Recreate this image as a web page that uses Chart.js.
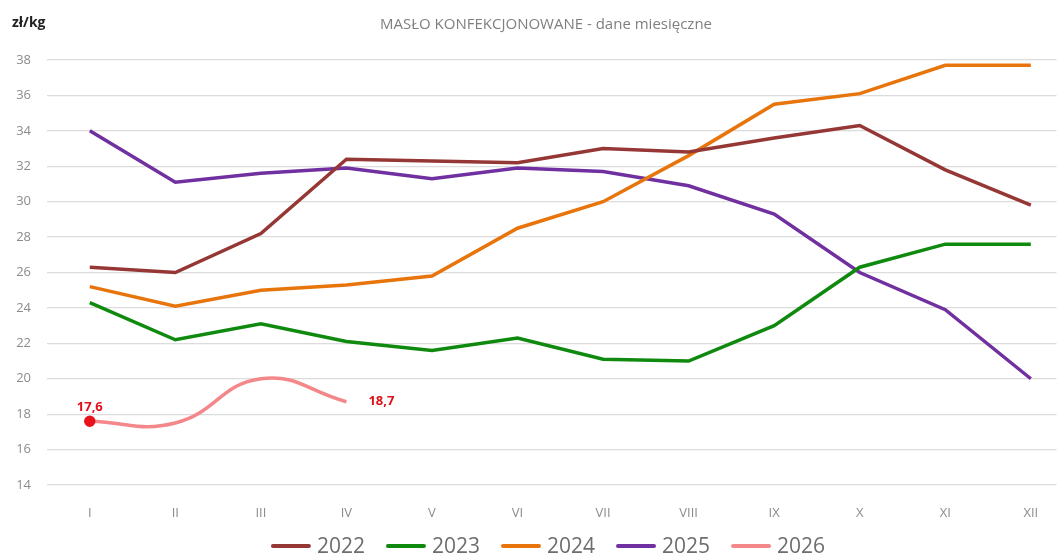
<!DOCTYPE html>
<html>
<head>
<meta charset="utf-8">
<script src="https://cdn.jsdelivr.net/npm/chart.js@4/dist/chart.umd.min.js"></script>
<style>
  body { margin: 0; background: #fff; }
  #wrap { width: 1064px; height: 557px; }
</style>
</head>
<body>
<div id="wrap"><canvas id="butterChart" width="1064" height="557"></canvas></div>
<script>
const months = ['I', 'II', 'III', 'IV', 'V', 'VI', 'VII', 'VIII', 'IX', 'X', 'XI', 'XII'];
const years = ['2022', '2023', '2024', '2025', '2026'];
const colors = ['#953735', '#0f8a0f', '#e8740c', '#7030a0', '#f4878a'];

const v2022 = [26.3, 26.0, 28.2, 32.4, 32.3, 32.2, 33.0, 32.8, 33.6, 34.3, 31.8, 29.8];
const v2023 = [24.3, 22.2, 23.1, 22.1, 21.6, 22.3, 21.1, 21.0, 23.0, 26.3, 27.6, 27.6];
const v2024 = [25.2, 24.1, 25.0, 25.3, 25.8, 28.5, 30.0, 32.6, 35.5, 36.1, 37.7, 37.7];
const v2025 = [34.0, 31.1, 31.6, 31.9, 31.3, 31.9, 31.7, 30.9, 29.3, 26.0, 23.9, 20.0];
const v2026 = [17.6, 17.5, 20.0, 18.7];

const yTicks = [14, 16, 18, 20, 22, 24, 26, 28, 30, 32, 34, 36, 38];
const seriesList = [v2022, v2023, v2024, v2025, v2026];

function toPoints(arr) {
  return arr.map((y, i) => ({ x: i + 1, y: y }));
}

const datasets = seriesList.map((vals, i) => ({
  label: years[i],
  data: toPoints(vals),
  borderColor: colors[i],
  backgroundColor: colors[i],
  borderWidth: 3.5,
  tension: i === 4 ? 0.45 : 0,
  pointRadius: i === 4 ? [4, 0, 0, 0] : 0,
  pointBackgroundColor: '#e8141c',
  pointBorderColor: '#e8141c'
}));

// labels on 2026, title, unit and the legend row
const extraText = {
  id: 'extraText',
  afterDatasetsDraw(chart) {
    const ctx = chart.ctx;
    const xs = chart.scales.x, ys = chart.scales.y;
    ctx.save();
    ctx.font = 'bold 13px "Open Sans", sans-serif';
    ctx.fillStyle = '#e0101a';
    ctx.textBaseline = 'middle';
    const first = v2026[0], last = v2026[v2026.length - 1];
    ctx.textAlign = 'center';
    ctx.fillText(first.toFixed(1).replace('.', ','), xs.getPixelForValue(1), ys.getPixelForValue(first) - 14);
    ctx.textAlign = 'left';
    ctx.fillText(last.toFixed(1).replace('.', ','), xs.getPixelForValue(v2026.length) + 22, ys.getPixelForValue(last));

    ctx.fillStyle = '#7f7f7f';
    ctx.font = '15px "Open Sans", sans-serif';
    ctx.textAlign = 'center';
    ctx.fillText('MASŁO KONFEKCJONOWANE - dane miesięczne', 546, 25);
    ctx.fillStyle = '#222';
    ctx.font = 'bold 14px "Open Sans", sans-serif';
    ctx.textAlign = 'left';
    ctx.fillText('zł/kg', 12, 23);

    // legend
    ctx.font = '21px "Open Sans", sans-serif';
    const lineW = 40, gapIn = 6, gapOut = 21;
    const widths = years.map(t => ctx.measureText(t).width);
    const total = widths.reduce((s, w) => s + lineW + gapIn + w, 0) + gapOut * (years.length - 1);
    let x = 548 - total / 2;
    const ly = 546;
    years.forEach((t, i) => {
      ctx.strokeStyle = colors[i];
      ctx.lineWidth = 4;
      ctx.lineCap = 'round';
      ctx.beginPath();
      ctx.moveTo(x + 2, ly);
      ctx.lineTo(x + lineW - 2, ly);
      ctx.stroke();
      ctx.fillStyle = '#6d6d6d';
      ctx.fillText(t, x + lineW + gapIn, ly + 1);
      x += lineW + gapIn + widths[i] + gapOut;
    });
    ctx.restore();
  }
};

new Chart(document.getElementById('butterChart'), {
  type: 'line',
  data: { datasets: datasets },
  plugins: [extraText],
  options: {
    responsive: false,
    animation: false,
    layout: { padding: { top: 60, right: 0, left: 0, bottom: 0 } },
    plugins: {
      tooltip: { enabled: false },
      legend: { display: false }
    },
    scales: {
      x: {
        type: 'linear',
        min: 0.5,
        max: 12.3,
        grid: { display: false },
        border: { display: false },
        afterBuildTicks(scale) {
          scale.ticks = months.map((m, i) => ({ value: i + 1 }));
        },
        afterFit(scale) { scale.height = 72; },
        ticks: {
          color: '#8c8c8c',
          padding: 12,
          font: { size: 13, family: '"Open Sans", sans-serif' },
          callback: (v) => months[v - 1] || ''
        }
      },
      y: {
        min: 14,
        max: 38,
        afterBuildTicks(scale) {
          scale.ticks = yTicks.map(v => ({ value: v }));
        },
        afterFit(scale) { scale.width = 47; },
        grid: { color: '#dcdcdc', lineWidth: 1.2, drawTicks: false },
        border: { display: false },
        ticks: {
          color: '#8c8c8c',
          padding: 16,
          font: { size: 13, family: '"Open Sans", sans-serif' }
        }
      }
    }
  }
});
</script>
</body>
</html>
